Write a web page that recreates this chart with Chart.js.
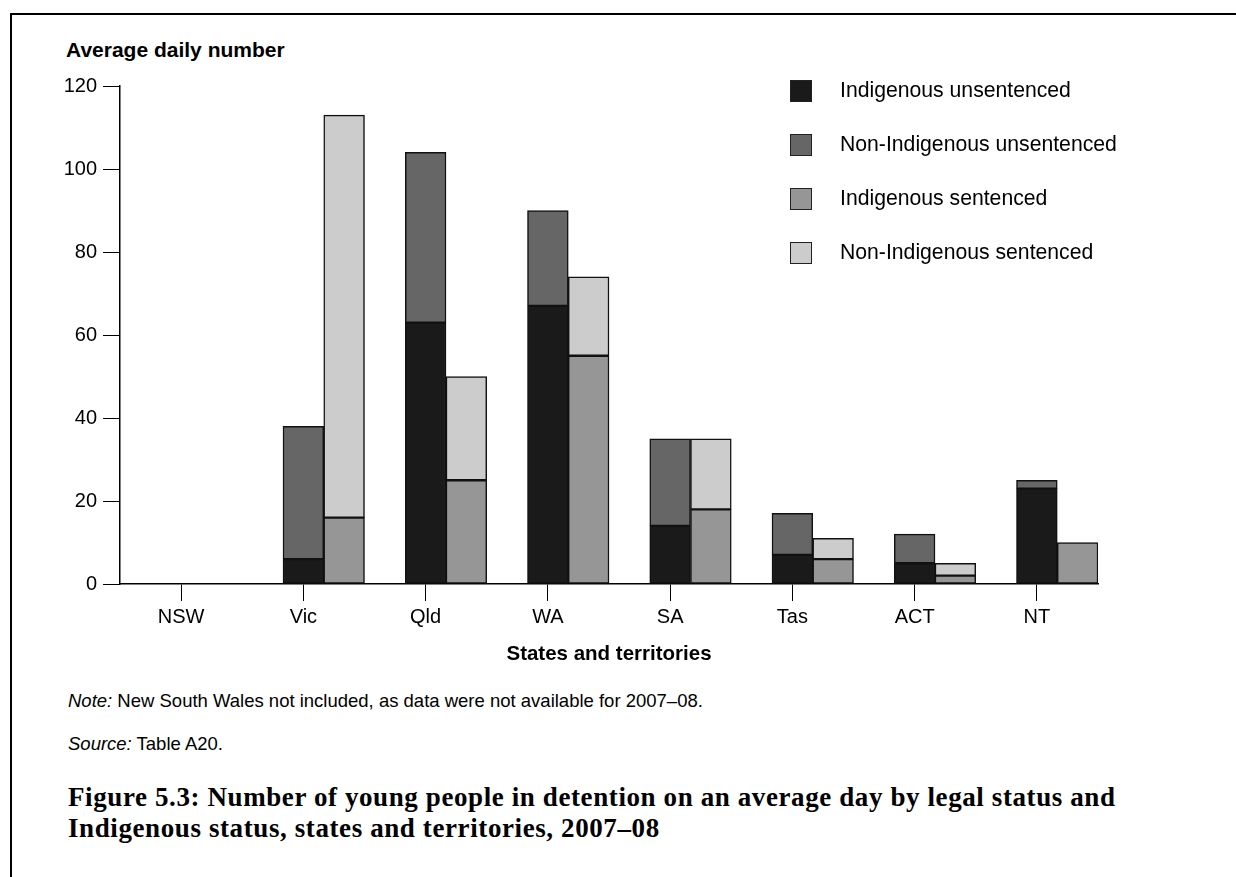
<!DOCTYPE html>
<html>
<head>
<meta charset="utf-8">
<script src="https://cdn.jsdelivr.net/npm/chart.js@4.4.1/dist/chart.umd.min.js"></script>
<style>
  html, body { margin: 0; padding: 0; background: #fff; }
  body { width: 1236px; height: 877px; position: relative; overflow: hidden; font-family: "Liberation Sans", Arial, sans-serif; color: #000; }
  #frame { position: absolute; left: 10px; top: 13px; width: 1236px; height: 900px; border-top: 2px solid #000; border-left: 2px solid #000; }
  #chartBox { position: absolute; left: 0; top: 0; width: 1236px; height: 667px; }
  #yTitle { position: absolute; left: 66px; top: 38px; font-size: 21px; font-weight: bold; }
  #legend { position: absolute; left: 790px; top: 80px; }
  .item { position: relative; height: 54px; }
  .swatch { position: absolute; left: 0; top: 0; width: 20px; height: 20px; border: 1.5px solid #222; }
  .label { position: absolute; left: 50px; top: -2px; font-size: 21.2px; white-space: nowrap; }
  .note { position: absolute; left: 68px; font-size: 18.5px; }
  .note i { font-style: italic; }
  #caption { position: absolute; left: 68px; top: 782px; font-family: "Liberation Serif", "Times New Roman", serif; font-weight: bold; font-size: 27px; letter-spacing: 0.6px; line-height: 31px; }
</style>
</head>
<body>
<div id="frame"></div>
<div id="yTitle">Average daily number</div>
<div id="chartBox"><canvas id="detChart"></canvas></div>
<div id="legend"></div>
<div class="note" style="top:690px"><i>Note:</i> New South Wales not included, as data were not available for 2007–08.</div>
<div class="note" style="top:733px"><i>Source:</i> Table A20.</div>
<div id="caption">Figure 5.3: Number of young people in detention on an average day by legal status and<br>Indigenous status, states and territories, 2007–08</div>
<script>
const states = ['NSW', 'Vic', 'Qld', 'WA', 'SA', 'Tas', 'ACT', 'NT'];
const indigUnsentenced = [0, 6, 63, 67, 14, 7, 5, 23];
const nonIndigUnsentenced = [0, 32, 41, 23, 21, 10, 7, 2];
const indigSentenced = [0, 16, 25, 55, 18, 6, 2, 10];
const nonIndigSentenced = [0, 97, 25, 19, 17, 5, 3, 0];
// empty first slot in each state, as in the original figure
const spacer = [null, null, null, null, null, null, null, null];
const yTicks = [0, 20, 40, 60, 80, 100, 120];

const series = [
    { label: 'Indigenous unsentenced', data: indigUnsentenced, color: '#1a1a1a', stack: 'u' },
    { label: 'Non-Indigenous unsentenced', data: nonIndigUnsentenced, color: '#666666', stack: 'u' },
    { label: 'Indigenous sentenced', data: indigSentenced, color: '#969696', stack: 's' },
    { label: 'Non-Indigenous sentenced', data: nonIndigSentenced, color: '#cccccc', stack: 's' }
];

const datasets = [{ label: 'spacer', data: spacer, stack: 'a', borderWidth: 0 }].concat(series.map(function(s) {
    return {
        label: s.label,
        data: s.data,
        stack: s.stack,
        backgroundColor: s.color,
        borderColor: '#111',
        borderWidth: 1.5,
        borderSkipped: false
    };
}));

const font = { family: '"Liberation Sans", Arial, sans-serif', size: 20 };

new Chart(document.getElementById('detChart').getContext('2d'), {
    type: 'bar',
    data: { labels: states, datasets: datasets },
    options: {
        responsive: true,
        maintainAspectRatio: false,
        animation: false,
        layout: { padding: { left: 0, top: 86, right: 138, bottom: 0 } },
        plugins: { legend: { display: false }, tooltip: { enabled: false } },
        datasets: { bar: { categoryPercentage: 1, barPercentage: 1 } },
        scales: {
            x: {
                stacked: true,
                afterFit: function(scale) { scale.height = 83; },
                grid: { display: true, offset: false, drawOnChartArea: false, drawTicks: true, tickLength: 17, color: '#000', lineWidth: 1 },
                border: { display: true, color: '#000', width: 1.5 },
                ticks: { color: '#000', font: font, padding: 4, maxRotation: 0 },
                title: { display: true, text: 'States and territories', color: '#000', font: { family: font.family, size: 20.5, weight: 'bold' }, padding: { top: 6, bottom: 0 } }
            },
            y: {
                stacked: true,
                min: 0,
                max: 120,
                afterFit: function(scale) { scale.width = 120; },
                afterBuildTicks: function(scale) { scale.ticks = yTicks.map(function(v) { return { value: v }; }); },
                grid: { display: true, drawOnChartArea: false, drawTicks: true, tickLength: 17, color: '#000', lineWidth: 1 },
                border: { display: true, color: '#000', width: 1.5 },
                ticks: { color: '#000', font: font, padding: 6 }
            }
        }
    }
});

const legendEl = document.getElementById('legend');
series.forEach(function(s) {
    const item = document.createElement('div');
    item.className = 'item';
    item.innerHTML = '<div class="swatch" style="background:' + s.color + '"></div><div class="label">' + s.label + '</div>';
    legendEl.appendChild(item);
});
</script>
</body>
</html>
